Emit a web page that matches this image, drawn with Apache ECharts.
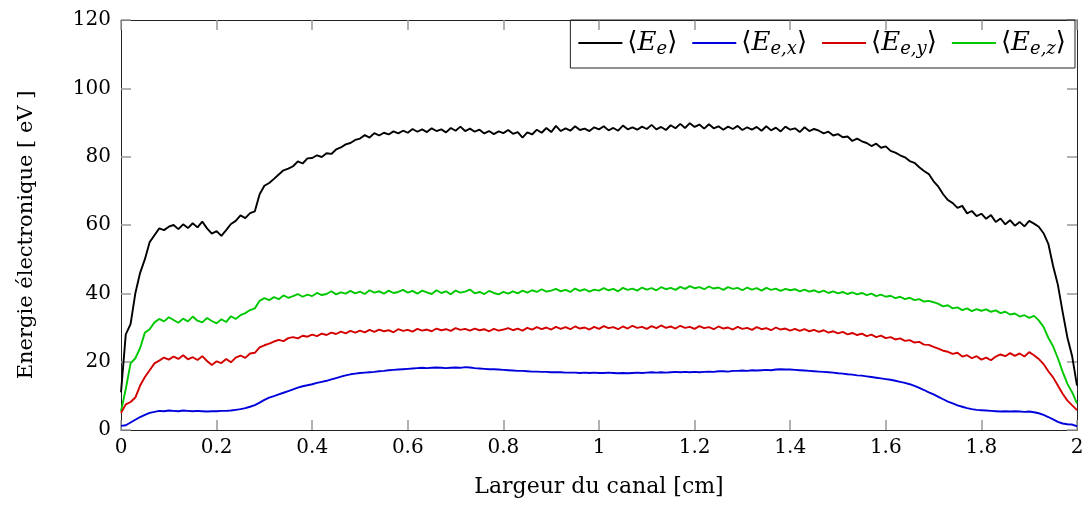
<!DOCTYPE html>
<html>
<head>
<meta charset="utf-8">
<script src="https://cdn.jsdelivr.net/npm/echarts@6/dist/echarts.min.js"></script>
<style>html,body{margin:0;padding:0;background:#fff}#c{width:1089px;height:508px}</style>
</head>
<body>
<div id="c"></div>
<script>
// x positions: channel width [cm], uniform grid 0..2, step 0.01
const xStep = 0.01;
const xCount = 201;
const xTicks = ['0','0.2','0.4','0.6','0.8','1','1.2','1.4','1.6','1.8','2'];
const yTicks = ['0','20','40','60','80','100','120'];
const seriesNames = ['⟨Ee⟩', '⟨Ee,x⟩', '⟨Ee,y⟩', '⟨Ee,z⟩'];

const E_e = [
11,28,31,40,46,50,55,57,59,58.5,
59.5,60,58.8,60.2,59.1,60.5,59.3,61.0,59.0,57.5,
58.2,56.8,58.5,60.3,61.2,62.8,62.0,63.5,64.0,69.0,
71.5,72.3,73.5,74.8,76.0,76.5,77.2,78.6,78.0,79.5,
79.6,80.4,79.9,81.0,80.8,82.1,82.7,83.6,84.0,84.9,
85.3,86.3,85.6,86.9,86.2,87.0,86.5,87.4,86.8,87.6,
87.0,88.1,87.3,88.0,87.2,88.3,87.5,88.0,87.1,88.4,
87.6,88.8,87.5,88.2,87.3,87.9,86.8,87.5,86.6,87.4,
86.9,87.8,86.7,87.2,85.6,87.1,86.5,87.9,87.0,88.4,
87.2,89.0,87.5,88.3,87.6,88.9,87.8,88.2,87.5,88.6,
88.0,88.9,87.7,88.4,87.6,89.1,88.0,88.6,87.9,88.8,
88.1,89.3,88.0,88.7,87.8,89.2,88.3,89.6,88.4,89.8,
88.7,89.4,88.2,89.5,88.3,88.9,87.9,88.8,88.1,89.0,
87.8,88.6,87.9,88.7,87.6,88.9,87.7,88.5,87.4,88.8,
87.9,88.3,87.2,88.6,87.5,88.1,87.6,86.8,87.3,86.2,
86.6,85.7,85.9,84.6,85.3,84.5,84.0,83.1,83.8,82.6,
83.0,81.7,81.2,80.4,79.8,78.7,78.2,76.9,75.8,74.9,
72.8,71.2,69.0,67.3,66.4,65.0,65.6,63.4,64.1,62.6,
63.3,61.8,62.9,60.9,61.9,60.2,61.4,59.8,60.9,59.6,
61.2,60.4,59.5,57.6,54.5,48.0,42.5,34.5,27.0,21.5,
13.0
];

const E_ex = [
1.2,1.4,2.2,3.0,3.8,4.4,5.0,5.3,5.6,5.5,
5.7,5.6,5.5,5.7,5.6,5.5,5.6,5.5,5.4,5.5,
5.5,5.6,5.6,5.7,5.9,6.1,6.4,6.8,7.3,8.0,
8.8,9.5,9.9,10.4,10.9,11.4,11.9,12.4,12.8,13.1,
13.4,13.8,14.1,14.4,14.8,15.2,15.6,16.0,16.3,16.5,
16.7,16.8,16.9,17.0,17.2,17.3,17.5,17.6,17.7,17.8,
17.9,18.0,18.1,18.2,18.1,18.2,18.3,18.2,18.1,18.2,
18.3,18.2,18.4,18.3,18.1,18.0,17.9,17.8,17.8,17.7,
17.6,17.5,17.4,17.3,17.3,17.2,17.1,17.1,17.0,17.0,
16.9,16.9,16.9,16.8,16.8,16.8,16.7,16.8,16.7,16.8,
16.7,16.7,16.8,16.7,16.6,16.7,16.6,16.7,16.8,16.7,
16.8,16.9,16.8,16.9,16.8,16.9,17.0,16.9,17.0,16.9,
17.0,16.9,17.0,17.1,17.0,17.2,17.2,17.1,17.3,17.3,
17.4,17.3,17.5,17.4,17.5,17.6,17.5,17.7,17.8,17.7,
17.7,17.6,17.5,17.4,17.3,17.2,17.1,17.0,16.9,16.8,
16.6,16.5,16.3,16.2,16.0,15.9,15.7,15.5,15.3,15.1,
14.9,14.7,14.4,14.1,13.8,13.4,12.9,12.3,11.7,11.0,
10.4,9.7,9.0,8.3,7.8,7.2,6.8,6.4,6.1,5.9,
5.8,5.7,5.6,5.5,5.4,5.5,5.4,5.5,5.4,5.3,
5.4,5.2,4.9,4.4,3.8,3.1,2.4,1.9,1.7,1.6,
1.1
];

const E_ey = [
5,7.5,8.2,9.5,13,15.5,17.5,19.5,20.3,21.2,
20.6,21.5,20.8,21.9,20.7,21.3,20.5,21.6,20.2,19.0,
20.1,19.6,20.8,19.8,21.2,21.8,21.1,22.4,22.6,24.2,
24.8,25.3,25.9,26.4,26.0,26.9,27.2,26.8,27.6,27.3,
27.9,27.5,28.2,27.8,28.5,28.1,28.8,28.3,29.0,28.5,
29.1,28.6,29.3,28.7,29.4,28.9,29.2,28.6,29.5,29.0,
29.3,28.8,29.6,29.1,29.4,28.9,29.7,29.2,29.5,29.0,
29.8,29.3,29.6,29.1,29.7,29.2,29.5,28.9,29.6,29.1,
29.4,29.8,29.2,29.7,29.1,29.9,29.4,30.1,29.5,30.0,
29.4,30.2,29.6,30.1,29.5,30.3,29.7,30.0,29.4,30.2,
29.6,30.4,29.8,30.1,29.5,30.3,29.7,30.5,29.9,30.2,
29.6,30.4,29.8,30.6,29.9,30.3,29.7,30.5,29.9,30.2,
29.6,30.4,29.8,30.1,29.5,30.3,29.7,30.0,29.4,30.2,
29.6,29.9,29.3,30.1,29.5,29.8,29.2,30.0,29.4,29.7,
29.1,29.6,29.0,29.5,28.9,29.3,28.7,29.2,28.5,28.9,
28.3,28.7,28.0,28.4,27.8,28.2,27.5,27.9,27.2,27.6,
26.9,27.2,26.5,26.8,26.1,26.3,25.6,25.8,25.0,24.9,
24.3,23.8,23.2,22.9,22.3,22.6,21.5,21.9,21.0,21.6,
20.6,21.2,20.4,21.5,22.1,21.6,22.5,21.7,22.4,21.5,
22.8,21.9,20.8,19.3,17.2,15.4,13.0,10.6,8.6,7.2,
5.8
];

const E_ez = [
5.5,12,19.5,21,24,28.5,29.5,31.5,32.5,31.8,
33.0,32.2,31.4,32.6,31.8,33.2,32.0,31.5,32.8,31.9,
31.2,32.4,31.6,33.3,32.5,33.6,34.2,35.1,35.6,37.8,
38.6,38.0,38.9,38.3,39.4,38.7,39.2,39.8,39.0,39.6,
39.2,40.1,39.5,39.8,40.6,39.7,40.3,39.9,40.7,40.0,
40.5,39.8,40.9,40.2,40.6,39.9,40.8,40.1,40.4,41.0,
40.2,40.7,39.9,40.8,40.3,39.8,40.9,40.1,40.6,39.7,
40.8,40.2,40.5,41.1,40.0,40.4,39.8,40.7,40.1,39.7,
40.4,39.9,40.6,40.0,40.8,40.2,40.9,40.4,41.2,40.5,
40.8,41.3,40.6,41.0,40.4,41.4,40.7,41.2,40.5,41.1,
40.8,41.5,40.9,41.3,40.6,41.6,41.0,41.4,40.8,41.7,
41.1,41.5,40.9,41.8,41.2,41.6,41.0,41.9,41.3,42.1,
41.5,41.8,41.2,42.0,41.4,41.7,41.0,41.8,41.3,41.6,
40.9,41.7,41.1,41.5,40.8,41.6,41.0,41.4,40.7,41.3,
40.9,41.2,40.6,41.1,40.5,40.9,40.3,40.8,40.1,40.6,
40.0,40.4,39.8,40.3,39.7,40.1,39.5,39.9,39.2,39.6,
39.0,39.3,38.6,39.0,38.3,38.7,38.0,38.3,37.6,37.8,
37.4,36.9,36.2,36.5,35.6,35.9,35.1,35.6,34.8,35.4,
34.9,35.3,34.6,35.0,34.2,34.6,33.8,34.1,33.2,33.6,
32.8,33.4,32.1,30.2,27.0,24.5,21.0,17.0,13.5,11.0,
7.8
];

const xs = [];
for (let i = 0; i < xCount; i++) xs.push(+(i * xStep).toFixed(2));
const pairs = arr => xs.map((x, i) => [x, arr[i]]);

const serif = 'DejaVu Serif';
const chart = echarts.init(document.getElementById('c'), null, {renderer: 'canvas'});

function legendRich(name) {
  const m = name.match(/^⟨E(e)(?:,(.))?⟩$/);
  const sub = m[2] ? 'e,' + m[2] : 'e';
  return '{b|⟨}{i|E}{s|' + sub + '}{b|⟩}';
}

const colors = ['#000000', '#0000dd', '#d40000', '#00c800'];
const datasets = [E_e, E_ex, E_ey, E_ez];

const axisCommon = {
  min: 0,
  axisLine: {show: true, onZero: false, lineStyle: {color: '#222', width: 1}},
  axisTick: {show: true, inside: true, length: 10, lineStyle: {color: '#999', width: 1.5}},
  splitLine: {show: false}
};

chart.setOption({
  animation: false,
  backgroundColor: '#fff',
  grid: {left: 121, right: 12, top: 20, bottom: 78, show: false},
  legend: {
    data: seriesNames,
    right: 14, top: 20,
    orient: 'horizontal',
    icon: 'rect',
    itemWidth: 44, itemHeight: 2, itemGap: 15,
    padding: [10, 9, 10, 8],
    borderColor: '#222', borderWidth: 1,
    formatter: legendRich,
    textStyle: {
      fontFamily: serif, fontSize: 26, color: '#000',
      rich: {
        b: {fontFamily: serif, fontSize: 26, color: '#000'},
        i: {fontFamily: serif, fontStyle: 'italic', fontSize: 26, color: '#000'},
        s: {fontFamily: serif, fontStyle: 'italic', fontSize: 18, color: '#000', padding: [12, 0, 0, 0]}
      }
    }
  },
  xAxis: [
    Object.assign({}, axisCommon, {
      type: 'value', max: 2, interval: 0.2, position: 'bottom',
      name: 'Largeur du canal [cm]', nameLocation: 'middle', nameGap: 46,
      nameTextStyle: {fontFamily: serif, fontSize: 22, color: '#000'},
      axisLabel: {fontFamily: serif, fontSize: 20, color: '#000', margin: 8,
        formatter: v => xTicks[Math.round(v / 0.2)]}
    }),
    Object.assign({}, axisCommon, {
      type: 'value', max: 2, interval: 0.2, position: 'top', axisLabel: {show: false}
    })
  ],
  yAxis: [
    Object.assign({}, axisCommon, {
      type: 'value', max: 120, interval: 20, position: 'left',
      name: 'Energie électronique [ eV ]', nameLocation: 'middle', nameGap: 84,
      nameTextStyle: {fontFamily: serif, fontSize: 21, color: '#000', padding: [0, 20, 0, 0]},
      axisLabel: {fontFamily: serif, fontSize: 20, color: '#000', margin: 10,
        formatter: v => yTicks[Math.round(v / 20)]}
    }),
    Object.assign({}, axisCommon, {
      type: 'value', max: 120, interval: 20, position: 'right', axisLabel: {show: false}
    })
  ],
  series: seriesNames.map((n, k) => ({
    name: n, type: 'line', data: pairs(datasets[k]),
    xAxisIndex: 0, yAxisIndex: 0,
    showSymbol: false, symbol: 'none',
    lineStyle: {color: colors[k], width: 1.9},
    itemStyle: {color: colors[k]},
    z: 10 - k
  }))
});
</script>
</body>
</html>
